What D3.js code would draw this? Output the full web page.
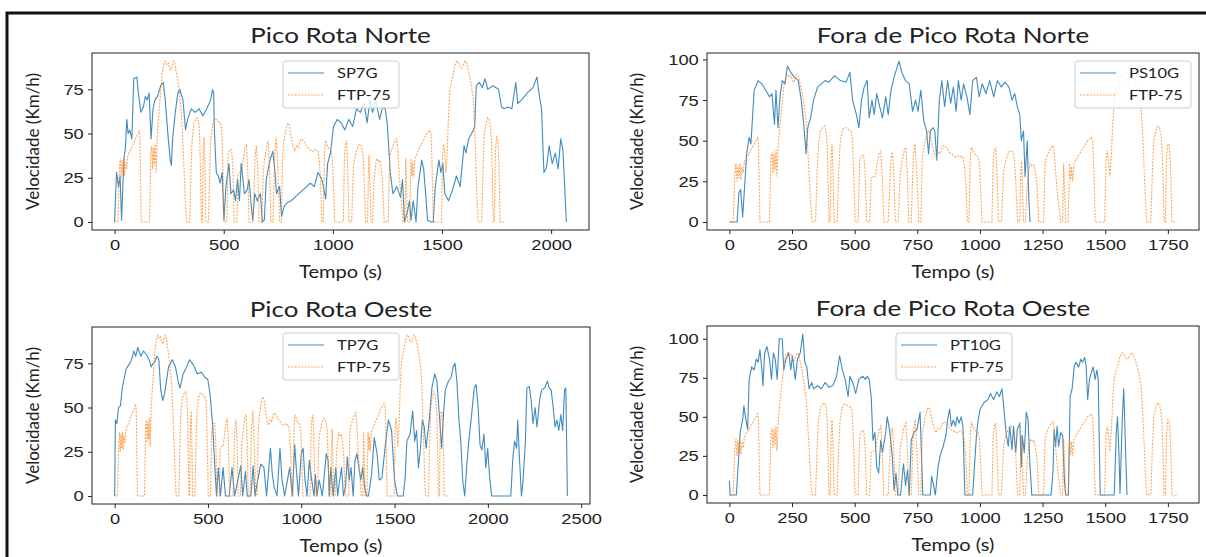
<!DOCTYPE html>
<html lang="pt">
<head>
<meta charset="UTF-8">
<script src="https://cdn.jsdelivr.net/npm/d3@7"></script>
<style>
  body { margin: 0; background: #fff; }
  svg { font-family: Lato, sans-serif; }
  .axis text { font-size: 15.5px; fill: #222; }
  .axis path, .axis line { stroke: #222; }
  .title { font-size: 22px; fill: #222; }
  .label { font-size: 17px; fill: #222; }
  .legend text { font-size: 14px; fill: #222; }
</style>
</head>
<body>
<svg width="1206" height="557"></svg>
<script>
// FTP-75 reference cycle (s, km/h), shared by the four panels
var ftp75 = [[0,0],[15,0],[22,30],[26,36],[30,25],[34,35],[38,27],[42,36],[46,26],[50,34],[55,30],[60,37],[68,40],[76,41],[84,44],[92,46],[100,48],[107,50],[113,52],[116,48],[122,0],[160,0],[166,40],[170,43],[174,30],[178,42],[182,32],[186,44],[190,28],[196,50],[202,60],[210,72],[218,84],[226,90],[232,91],[238,89],[246,90],[252,87],[258,86],[264,88],[270,91],[276,90],[282,85],[290,80],[298,72],[306,62],[312,48],[318,30],[324,12],[330,0],[344,0],[350,30],[356,48],[364,56],[372,58],[380,59],[386,56],[390,48],[394,25],[398,0],[402,0],[406,40],[410,48],[414,30],[418,0],[430,0],[436,30],[442,48],[450,56],[458,58],[466,58],[474,57],[482,56],[488,55],[492,48],[496,30],[502,0],[514,0],[520,38],[528,41],[536,41],[542,30],[548,0],[560,0],[566,27],[574,28],[582,28],[590,36],[598,42],[604,44],[610,30],[616,0],[634,0],[644,38],[650,43],[656,30],[662,0],[674,0],[682,30],[690,38],[698,44],[704,46],[710,30],[716,0],[726,0],[734,40],[741,48],[748,30],[756,0],[764,0],[770,38],[776,46],[782,50],[788,54],[794,56],[800,55],[806,50],[812,46],[818,42],[825,40],[833,43],[841,42],[848,45],[856,47],[864,46],[871,45],[878,43],[886,42],[894,41],[902,40],[910,40],[918,41],[926,40],[932,40],[938,35],[944,22],[950,0],[956,0],[962,40],[966,46],[972,44],[978,42],[986,41],[993,40],[998,36],[1003,20],[1008,0],[1048,0],[1053,38],[1058,44],[1063,46],[1068,30],[1074,0],[1086,0],[1094,30],[1100,36],[1108,40],[1116,43],[1124,44],[1131,43],[1138,38],[1143,25],[1150,0],[1159,0],[1163,30],[1166,38],[1170,20],[1174,0],[1182,0],[1188,22],[1194,30],[1200,36],[1208,34],[1215,35],[1222,30],[1228,22],[1235,0],[1254,0],[1260,36],[1266,40],[1272,42],[1278,44],[1285,46],[1292,47],[1298,40],[1305,25],[1312,14],[1322,0],[1330,0],[1334,36],[1338,20],[1342,0],[1352,0],[1358,36],[1362,26],[1366,34],[1370,25],[1376,36],[1383,38],[1390,40],[1398,42],[1406,44],[1414,46],[1422,48],[1429,50],[1437,51],[1444,52],[1450,50],[1455,30],[1460,0],[1498,0],[1503,38],[1508,44],[1513,38],[1518,28],[1524,40],[1530,60],[1536,75],[1544,80],[1551,83],[1558,88],[1567,91],[1575,90],[1582,88],[1590,87],[1597,89],[1605,91],[1612,90],[1620,86],[1628,82],[1636,76],[1643,70],[1650,52],[1656,30],[1661,12],[1666,0],[1682,0],[1688,30],[1694,50],[1702,56],[1710,59],[1716,58],[1722,54],[1727,45],[1731,25],[1735,0],[1740,0],[1745,40],[1750,48],[1755,47],[1759,40],[1763,20],[1766,0],[1785,0]];

// measured routes (s, km/h)
var sp7g = [[0,0],[9,28],[18,20],[25,26],[32,1],[39,24],[44,37],[49,41],[56,58],[62,50],[70,52],[79,47],[88,81],[102,82],[109,73],[120,62],[132,65],[141,71],[150,69],[158,73],[167,47],[176,64],[185,69],[197,71],[211,77],[223,79],[232,69],[246,47],[255,35],[260,32],[266,47],[278,62],[290,73],[299,75],[313,69],[325,52],[334,58],[352,64],[369,62],[387,64],[405,60],[422,64],[440,69],[449,75],[454,73],[457,52],[466,28],[475,26],[484,22],[493,28],[501,1],[510,20],[524,33],[533,16],[545,18],[554,12],[563,24],[572,12],[580,33],[595,16],[607,18],[616,24],[624,12],[633,1],[642,16],[654,12],[668,16],[677,0],[686,1],[695,24],[704,30],[712,35],[725,40],[735,28],[742,16],[756,20],[765,3],[777,9],[792,11],[809,12],[827,14],[844,16],[862,18],[880,20],[897,22],[915,20],[932,28],[950,24],[967,13],[976,33],[989,39],[1003,54],[1020,58],[1038,56],[1055,52],[1073,58],[1091,54],[1108,64],[1126,62],[1143,67],[1157,56],[1170,69],[1182,62],[1196,69],[1214,58],[1228,65],[1240,64],[1249,56],[1263,28],[1275,16],[1293,20],[1310,14],[1319,24],[1328,0],[1340,5],[1351,12],[1358,1],[1368,12],[1381,0],[1390,20],[1407,35],[1416,30],[1425,16],[1434,1],[1451,0],[1460,0],[1469,20],[1486,35],[1495,28],[1504,33],[1513,16],[1530,12],[1548,18],[1566,26],[1583,20],[1601,43],[1610,39],[1622,47],[1636,50],[1650,54],[1657,77],[1671,79],[1685,76],[1697,81],[1710,75],[1733,77],[1759,75],[1773,65],[1785,64],[1803,65],[1820,64],[1838,79],[1847,67],[1865,69],[1891,73],[1917,76],[1935,82],[1944,73],[1956,64],[1967,28],[1979,31],[1991,43],[2005,33],[2019,39],[2032,30],[2044,47],[2054,41],[2062,20],[2070,0]];

var ps10g = [[0,0],[31,0],[38,18],[45,20],[53,3],[61,22],[69,42],[79,52],[86,48],[99,81],[115,87],[130,85],[145,81],[160,77],[170,79],[180,60],[186,81],[194,58],[202,77],[211,87],[222,85],[232,96],[245,92],[260,89],[275,87],[287,75],[298,58],[306,42],[313,58],[324,64],[336,75],[352,83],[367,85],[382,87],[397,86],[420,90],[443,87],[466,86],[481,92],[492,75],[507,66],[517,58],[527,75],[538,83],[550,87],[558,64],[569,75],[578,66],[588,79],[600,71],[611,64],[624,77],[634,66],[645,81],[657,89],[669,95],[677,99],[688,92],[703,87],[718,85],[731,68],[743,75],[753,68],[764,81],[776,62],[787,56],[795,42],[802,56],[813,58],[820,56],[828,38],[838,75],[848,87],[859,71],[871,87],[883,73],[894,83],[905,68],[914,87],[925,75],[935,85],[948,77],[960,66],[971,87],[986,89],[997,77],[1009,85],[1024,79],[1039,87],[1055,77],[1070,87],[1085,83],[1100,86],[1116,83],[1128,75],[1139,79],[1149,71],[1159,66],[1165,50],[1174,56],[1180,28],[1189,50],[1195,14],[1200,0]];

var tp7g = [[0,0],[1,10],[4,43],[12,41],[21,50],[31,51],[41,61],[52,67],[62,72],[82,75],[93,78],[103,82],[113,79],[124,84],[140,79],[155,82],[169,80],[185,77],[196,73],[206,75],[216,76],[227,79],[237,77],[247,60],[258,54],[268,58],[289,73],[309,77],[326,73],[340,65],[350,61],[367,69],[381,72],[402,77],[423,74],[443,69],[464,70],[484,67],[499,66],[511,58],[526,39],[536,18],[546,0],[556,16],[567,0],[581,16],[594,0],[614,0],[629,16],[643,0],[660,9],[676,17],[686,0],[701,14],[711,0],[730,0],[742,17],[752,0],[767,9],[783,18],[800,16],[814,0],[835,27],[845,12],[855,5],[870,0],[886,27],[897,9],[911,0],[938,16],[952,0],[965,29],[973,16],[985,0],[1000,24],[1010,27],[1020,9],[1031,0],[1043,20],[1055,10],[1068,0],[1076,12],[1084,0],[1096,9],[1113,0],[1134,24],[1144,20],[1150,0],[1158,16],[1171,0],[1185,16],[1195,0],[1206,9],[1216,16],[1226,0],[1237,5],[1247,22],[1257,9],[1267,16],[1278,0],[1288,20],[1298,24],[1309,16],[1319,9],[1329,16],[1340,5],[1350,0],[1360,0],[1377,12],[1391,33],[1406,24],[1418,9],[1432,10],[1453,31],[1467,43],[1484,37],[1500,9],[1515,0],[1546,0],[1556,9],[1566,31],[1583,35],[1597,48],[1608,31],[1618,37],[1628,16],[1639,27],[1649,43],[1659,39],[1669,27],[1686,43],[1700,61],[1715,69],[1727,65],[1742,43],[1752,27],[1762,46],[1772,60],[1789,65],[1803,67],[1814,73],[1824,75],[1834,65],[1845,43],[1855,31],[1865,9],[1876,0],[1886,16],[1896,29],[1913,46],[1927,61],[1937,63],[1948,50],[1958,29],[1968,26],[1979,35],[1989,16],[1999,27],[2010,10],[2020,0],[2123,0],[2133,20],[2143,31],[2154,27],[2160,43],[2168,24],[2180,0],[2189,9],[2201,31],[2209,61],[2222,62],[2232,54],[2242,41],[2253,50],[2263,39],[2277,54],[2288,60],[2304,61],[2319,65],[2329,61],[2339,60],[2350,50],[2360,39],[2370,43],[2380,37],[2391,46],[2401,37],[2411,60],[2418,61],[2426,0]];

var pt10g = [[0,9],[3,0],[28,0],[34,16],[43,40],[53,48],[58,57],[64,50],[73,42],[79,74],[89,82],[99,80],[107,87],[115,85],[122,93],[130,80],[134,70],[141,91],[150,95],[160,87],[168,74],[176,91],[183,87],[191,74],[199,100],[211,100],[217,80],[226,87],[237,91],[245,80],[252,89],[263,74],[272,87],[283,91],[293,103],[301,85],[309,82],[318,68],[329,72],[336,68],[352,70],[367,68],[382,72],[397,69],[413,70],[428,76],[440,89],[451,80],[462,74],[474,63],[481,76],[492,72],[504,65],[517,74],[532,76],[543,74],[550,76],[558,74],[566,63],[573,35],[581,40],[588,18],[596,14],[604,35],[611,27],[624,40],[630,50],[639,42],[650,25],[657,3],[665,14],[672,0],[683,0],[695,20],[703,6],[711,16],[718,0],[726,35],[737,40],[749,42],[761,53],[772,0],[802,0],[807,12],[815,6],[822,0],[833,18],[841,25],[853,31],[864,38],[871,48],[879,55],[886,44],[894,48],[902,44],[909,50],[917,46],[925,50],[932,44],[940,0],[971,0],[978,18],[986,38],[993,48],[1001,55],[1016,59],[1032,61],[1042,65],[1055,61],[1067,66],[1078,63],[1088,68],[1097,53],[1104,40],[1113,31],[1119,44],[1128,29],[1134,44],[1143,27],[1149,42],[1159,46],[1165,18],[1169,38],[1177,27],[1185,53],[1192,48],[1200,18],[1207,0],[1284,0],[1292,16],[1296,42],[1302,31],[1308,44],[1314,31],[1322,40],[1330,38],[1337,10],[1342,0],[1353,0],[1360,63],[1368,68],[1376,82],[1383,85],[1394,82],[1403,87],[1409,85],[1418,88],[1424,82],[1430,61],[1437,74],[1444,78],[1452,82],[1460,74],[1467,80],[1472,74],[1480,0],[1536,0],[1544,40],[1549,50],[1555,25],[1559,1],[1568,48],[1574,68],[1580,35],[1587,0]];

var titles = ['Pico Rota Norte', 'Fora de Pico Rota Norte', 'Pico Rota Oeste', 'Fora de Pico Rota Oeste'];
var routeNames = ['SP7G', 'PS10G', 'TP7G', 'PT10G'];
var routes = [sp7g, ps10g, tp7g, pt10g];
var xTicks = [[0, 500, 1000, 1500, 2000], [0, 250, 500, 750, 1000, 1250, 1500, 1750],
              [0, 500, 1000, 1500, 2000, 2500], [0, 250, 500, 750, 1000, 1250, 1500, 1750]];
var yTicks = [[0, 25, 50, 75], [0, 25, 50, 75, 100], [0, 25, 50, 75], [0, 25, 50, 75, 100]];

// axes boxes, y-label offset and legend corners, in pixels
var boxes = [
    {x0: 92, x1: 589, y0: 53, y1: 230, yl: 53, lx: 283, ly: 61},
    {x0: 707, x1: 1199, y0: 53, y1: 230, yl: 64, lx: 1075, ly: 61},
    {x0: 92, x1: 590, y0: 327, y1: 504, yl: 53, lx: 283, ly: 333},
    {x0: 707, x1: 1199, y0: 326, y1: 503, yl: 64, lx: 896, ly: 333}
];

// the source image is stretched sideways, so text is too
var stretch = 1.18;

var blue = '#1f77b4', orange = '#ff7f0e';
var svg = d3.select('svg');

// outer frame of the figure
svg.append('path')
    .attr('d', 'M7,560 L7,13 L1210,13')
    .attr('fill', 'none')
    .attr('stroke', '#111')
    .attr('stroke-width', 3);

function padded(ext) {
    var r = ext[1] - ext[0];
    return [ext[0] - 0.05 * r, ext[1] + 0.05 * r];
}

function wideText(parent, cls, x, y, str) {
    return parent.append('text').attr('class', cls)
        .attr('transform', 'translate(' + x + ',' + y + ') scale(' + stretch + ',1)')
        .text(str);
}

boxes.forEach(function(b, i) {
    var all = routes[i].concat(ftp75);
    var x = d3.scaleLinear().domain(padded(d3.extent(all, function(d) { return d[0]; }))).range([b.x0, b.x1]);
    var y = d3.scaleLinear().domain(padded(d3.extent(all, function(d) { return d[1]; }))).range([b.y1, b.y0]);
    var g = svg.append('g');

    g.append('clipPath').attr('id', 'clip' + i)
        .append('rect').attr('x', b.x0).attr('y', b.y0)
        .attr('width', b.x1 - b.x0).attr('height', b.y1 - b.y0);

    var line = d3.line().x(function(d) { return x(d[0]); }).y(function(d) { return y(d[1]); });

    var plot = g.append('g').attr('clip-path', 'url(#clip' + i + ')');
    plot.append('path').datum(routes[i])
        .attr('d', line).attr('fill', 'none')
        .attr('stroke', blue).attr('stroke-width', 1.1).attr('stroke-opacity', 0.85)
        .attr('stroke-linejoin', 'round');
    plot.append('path').datum(ftp75)
        .attr('d', line).attr('fill', 'none')
        .attr('stroke', orange).attr('stroke-width', 1.1).attr('stroke-opacity', 0.7)
        .attr('stroke-dasharray', '2,1.3');

    g.append('g').attr('class', 'axis')
        .attr('transform', 'translate(0,' + b.y1 + ')')
        .call(d3.axisBottom(x).tickValues(xTicks[i]).tickFormat(d3.format('d'))
            .tickSize(4).tickPadding(5))
        .call(function(s) {
            s.select('.domain').remove();
            s.selectAll('.tick text').attr('transform', 'scale(' + stretch + ',1)');
        });
    g.append('g').attr('class', 'axis')
        .attr('transform', 'translate(' + b.x0 + ',0)')
        .call(d3.axisLeft(y).tickValues(yTicks[i]).tickFormat(d3.format('d'))
            .tickSize(4).tickPadding(3))
        .call(function(s) {
            s.select('.domain').remove();
            s.selectAll('.tick text').attr('transform', 'scale(' + stretch + ',1)');
        });

    g.append('rect')
        .attr('x', b.x0).attr('y', b.y0)
        .attr('width', b.x1 - b.x0).attr('height', b.y1 - b.y0)
        .attr('fill', 'none').attr('stroke', '#222').attr('stroke-width', 1);

    wideText(g, 'title', (b.x0 + b.x1) / 2, b.y0 - 10, titles[i]).attr('text-anchor', 'middle');
    wideText(g, 'label', (b.x0 + b.x1) / 2, b.y1 + 48, 'Tempo (s)').attr('text-anchor', 'middle');
    g.append('text').attr('class', 'label')
        .attr('transform', 'translate(' + (b.x0 - b.yl) + ',' + (b.y0 + b.y1) / 2 + ') rotate(-90)')
        .attr('text-anchor', 'middle').text('Velocidade (Km/h)');

    // legend
    var lg = g.append('g').attr('class', 'legend')
        .attr('transform', 'translate(' + b.lx + ',' + b.ly + ')');
    lg.append('rect').attr('width', 116).attr('height', 47).attr('rx', 3)
        .attr('fill', '#fff').attr('fill-opacity', 0.8)
        .attr('stroke', '#ccc').attr('stroke-width', 1);
    [[routeNames[i], blue, null, 0.85], ['FTP-75', orange, '2,1.3', 0.7]].forEach(function(e, k) {
        var yy = 12 + k * 22;
        lg.append('line').attr('x1', 5).attr('x2', 41).attr('y1', yy).attr('y2', yy)
            .attr('stroke', e[1]).attr('stroke-width', 1.1).attr('stroke-opacity', e[3])
            .attr('stroke-dasharray', e[2]);
        wideText(lg, '', 54, yy + 5, e[0]);
    });
});
</script>
</body>
</html>
